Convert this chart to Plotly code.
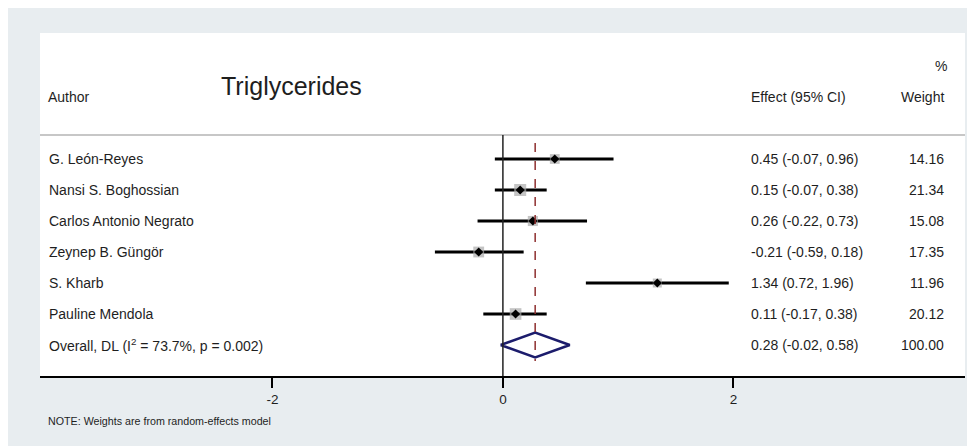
import plotly.graph_objects as go
import math

# ---------------- data ----------------
authors = ["G. León-Reyes", "Nansi S. Boghossian", "Carlos Antonio Negrato",
           "Zeynep B. Güngör", "S. Kharb", "Pauline Mendola"]
effect = [0.45, 0.15, 0.26, -0.21, 1.34, 0.11]
lower = [-0.07, -0.07, -0.22, -0.59, 0.72, -0.17]
upper = [0.96, 0.38, 0.73, 0.18, 1.96, 0.38]
weight = [14.16, 21.34, 15.08, 17.35, 11.96, 20.12]

overall_label = "Overall, DL (I<sup>2</sup> = 73.7%, p = 0.002)"
overall_effect = 0.28
overall_lower = -0.02
overall_upper = 0.58
overall_weight = 100.00

x_ticks = [-2, 0, 2]
title_text = "Triglycerides"
note_text = "NOTE: Weights are from random-effects model"

# ---------------- layout helpers ----------------
OFF = 8                      # page body margin
W, H = 967, 438
ML, MR, MT, MB = 32, 10, 25, 70
PW = W - ML - MR
PH = H - MT - MB
X_RANGE = [-4.017, 4.01]

# screen px helpers (screen = figure + OFF)
ROW0_PX, ROW_STEP = 159, 31
def px_to_row(py):
    return 1 + (py - ROW0_PX) / ROW_STEP

Y_TOP = px_to_row(MT + OFF)
Y_BOT = px_to_row(MT + OFF + PH)

def px_to_x(px):
    return X_RANGE[0] + (px - ML - OFF) / PW * (X_RANGE[1] - X_RANGE[0])

n = len(authors)
rows = list(range(1, n + 1))
overall_row = n + 1

TXT = "#1e1e1e"
FONT = "Liberation Sans, Arial, sans-serif"

fig = go.Figure()

# CI lines
cx, cy = [], []
for lo, hi, r in zip(lower, upper, rows):
    cx += [lo, hi, None]
    cy += [r, r, None]
fig.add_trace(go.Scatter(x=cx, y=cy, mode="lines",
                         line=dict(color="black", width=3), hoverinfo="skip"))

# weight boxes (area proportional to weight)
box_sizes = [2.6 * math.sqrt(w) for w in weight]
fig.add_trace(go.Scatter(x=effect, y=rows, mode="markers",
                         marker=dict(symbol="square", size=box_sizes,
                                     color="#ababab", line=dict(width=0)),
                         hoverinfo="skip"))
# point estimates
fig.add_trace(go.Scatter(x=effect, y=rows, mode="markers",
                         marker=dict(symbol="diamond", size=7, color="black"),
                         hoverinfo="skip"))

# overall diamond
h = 0.4
fig.add_trace(go.Scatter(
    x=[overall_lower, overall_effect, overall_upper, overall_effect, overall_lower],
    y=[overall_row, overall_row - h, overall_row, overall_row + h, overall_row],
    mode="lines", line=dict(color="#1c1c6c", width=2.5), hoverinfo="skip"))

shapes = []
# header separator
shapes.append(dict(type="line", xref="paper", yref="y", x0=0, x1=1,
                   y0=px_to_row(135), y1=px_to_row(135),
                   line=dict(color="#b5b5b5", width=1.5)))
# null line
shapes.append(dict(type="line", xref="x", yref="y", x0=0, x1=0,
                   y0=px_to_row(135), y1=Y_BOT,
                   line=dict(color="#222222", width=1.5)))
# overall effect dashed line
shapes.append(dict(type="line", xref="x", yref="y", x0=overall_effect, x1=overall_effect,
                   y0=px_to_row(143), y1=px_to_row(361),
                   line=dict(color="#8e2f2f", width=1.5, dash="dash")))

ann = []
def add_text(x, y, text, size=14, xanchor="left", xref="x", yref="y"):
    ann.append(dict(x=x, y=y, xref=xref, yref=yref, text=text, showarrow=False,
                    xanchor=xanchor, yanchor="middle",
                    font=dict(family=FONT, size=size, color=TXT)))

x_author = px_to_x(47)
x_effect = px_to_x(749)
x_weight = px_to_x(946)

for a, e, lo, hi, w, r in zip(authors, effect, lower, upper, weight, rows):
    add_text(x_author, r, a)
    add_text(x_effect, r, f"{e:.2f} ({lo:.2f}, {hi:.2f})")
    add_text(x_weight, r, f"{w:.2f}", xanchor="right")

add_text(x_author, overall_row, overall_label)
add_text(x_effect, overall_row, f"{overall_effect:.2f} ({overall_lower:.2f}, {overall_upper:.2f})")
add_text(x_weight, overall_row, f"{overall_weight:.2f}", xanchor="right")

# headers
add_text(px_to_x(46), px_to_row(97), "Author")
add_text(x_effect, px_to_row(97), "Effect (95% CI)")
add_text(x_weight, px_to_row(97), "Weight", xanchor="right")
add_text(px_to_x(949), px_to_row(66), "%", xanchor="right")
add_text(px_to_x(219), px_to_row(86), title_text, size=25)
# note
add_text((46 - ML - OFF) / PW, (MT + OFF + PH - 421) / PH, note_text, size=10.7,
         xref="paper", yref="paper")

fig.update_layout(
    width=W, height=H,
    margin=dict(l=ML, r=MR, t=MT, b=MB, pad=0),
    paper_bgcolor="#e8edf0",
    plot_bgcolor="white",
    showlegend=False,
    shapes=shapes,
    annotations=ann,
    font=dict(family=FONT, color=TXT),
    xaxis=dict(range=X_RANGE, tickvals=x_ticks, ticktext=[str(t) for t in x_ticks],
               showgrid=False, zeroline=False, showline=True, linecolor="black",
               linewidth=1.5, ticks="outside", ticklen=10, tickwidth=1.5,
               tickcolor="black", tickfont=dict(size=13.5, color=TXT, family=FONT),
               fixedrange=True),
    yaxis=dict(range=[Y_BOT, Y_TOP], showgrid=False, zeroline=False,
               showticklabels=False, showline=False, fixedrange=True),
)

fig.write_html("out.html")
